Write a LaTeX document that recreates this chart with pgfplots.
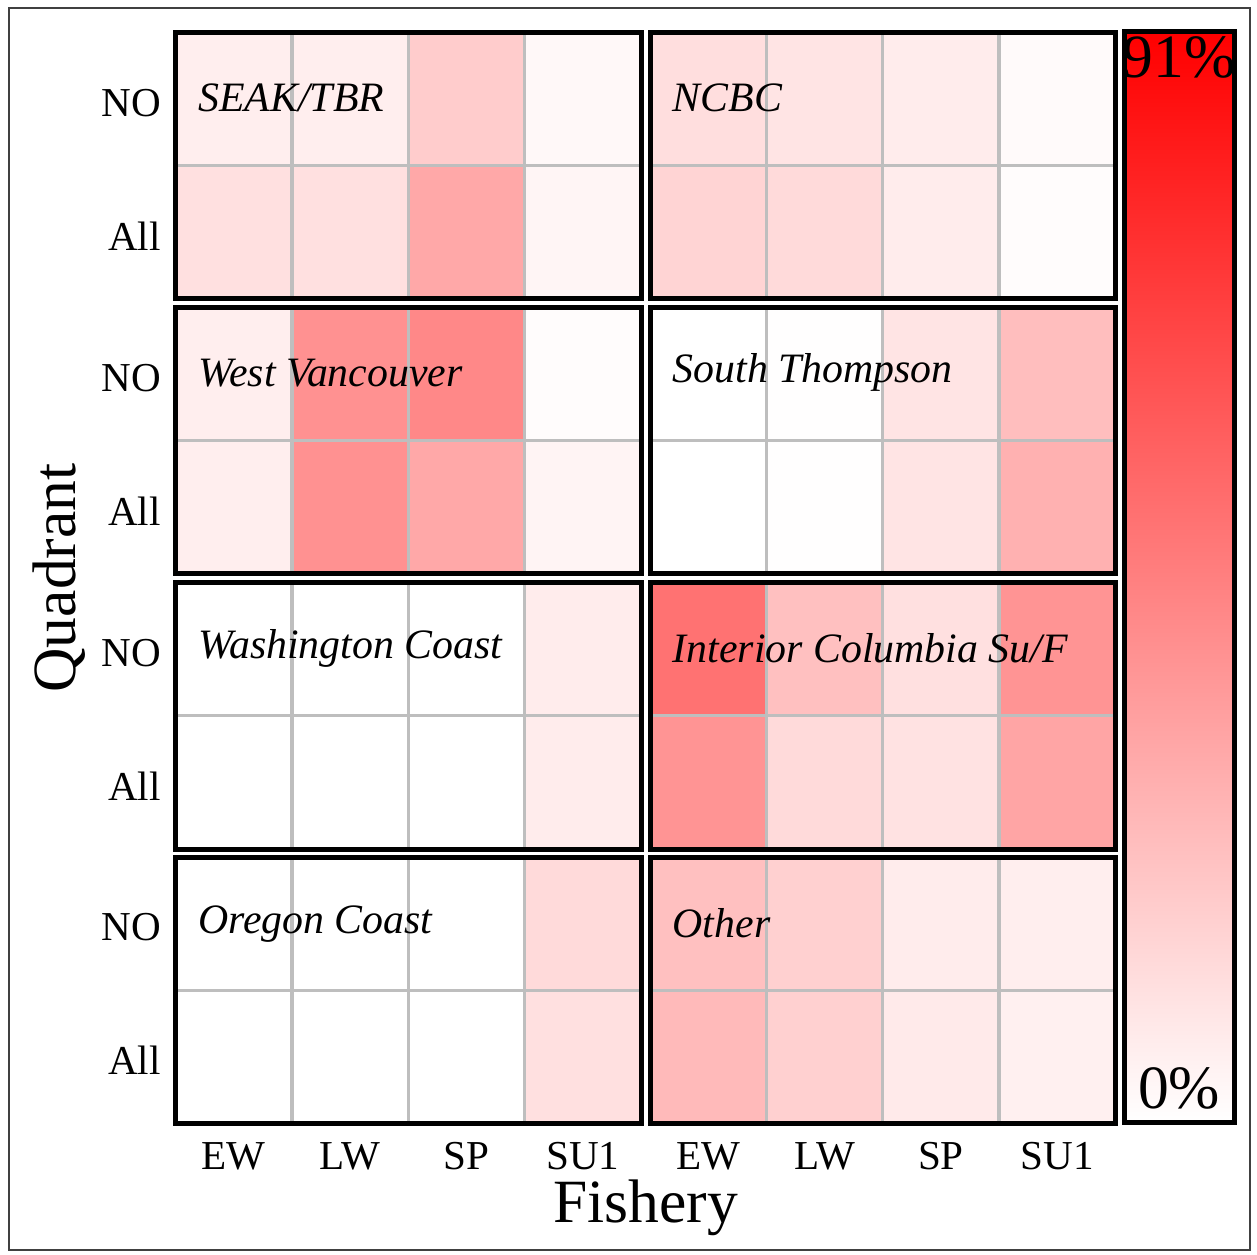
\documentclass[border=0pt]{standalone}
\usepackage{pgfplots}
\pgfplotsset{compat=1.18}
\usepackage{pgfplotstable}
\usepackage{fontspec}
\setmainfont{Liberation Serif}
\definecolor{gl}{RGB}{190,190,190}

% rows: y=0 -> All, y=1 -> NO ; x: 0 EW, 1 LW, 2 SP, 3 SU1 ; v in percent
\pgfplotstableread{
x y v
0 0 11
1 0 11
2 0 31
3 0 3.6
0 1 6
1 1 6
2 1 18
3 1 2.5
}\seak
\pgfplotstableread{
x y v
0 0 15.3
1 0 13.2
2 0 6.8
3 0 1
0 1 11.8
1 1 9.6
2 1 6.8
3 1 1.8
}\ncbc
\pgfplotstableread{
x y v
0 0 6
1 0 39
2 0 31
3 0 4
0 1 6
1 1 39
2 1 42
3 1 1
}\westvan
\pgfplotstableread{
x y v
0 0 0
1 0 0.5
2 0 9.6
3 0 27.5
0 1 0
1 1 0.5
2 1 9.6
3 1 23
}\souththom
\pgfplotstableread{
x y v
0 0 0
1 0 0
2 0 0
3 0 6.8
0 1 0
1 1 0
2 1 0
3 1 6.8
}\washc
\pgfplotstableread{
x y v
0 0 38
1 0 13.2
2 0 10.3
3 0 32
0 1 50
1 1 22.5
2 1 11
3 1 38
}\intcol
\pgfplotstableread{
x y v
0 0 0
1 0 0
2 0 0
3 0 11
0 1 0
1 1 0
2 1 0
3 1 13.2
}\oregc
\pgfplotstableread{
x y v
0 0 24.6
1 0 16.8
2 0 7.5
3 0 5.4
0 1 22.5
1 1 16.8
2 1 6.8
3 1 6
}\other

\pgfplotsset{
  wrmap/.style={colormap={wr}{rgb255=(255,255,255) rgb255=(255,0,0)},
    point meta min=0, point meta max=91},
  panel/.style={
    scale only axis, width=46.55mm, height=26.65mm, anchor=north west,
    xmin=-0.5, xmax=3.5, ymin=-0.5, ymax=1.5,
    axis on top, wrmap,
    xtick={0,1,2,3}, ytick={0,1}, xticklabels={}, yticklabels={},
    major tick length=0pt, minor tick length=0pt,
    minor xtick={0.5,1.5,2.5}, minor ytick={0.5},
    xminorgrids, yminorgrids,
    minor grid style={gl, line width=0.33mm},
    axis line style={line width=0.5mm, line join=miter},
    tick label style={font=\fontsize{11.7}{13}\selectfont},
    xticklabel style={inner sep=0pt, yshift=-1.8mm},
    yticklabel style={inner sep=0pt, xshift=-1.4mm, yshift=-0.35mm},
  },
  bottomrow/.style={xticklabels={EW,LW,SP,SU1}},
  leftcol/.style={yticklabels={All,NO}},
}
\tikzset{pn/.style={anchor=base west, inner sep=0pt, font=\fontsize{11.9}{14}\selectfont\itshape}}

\begin{document}
\begin{tikzpicture}
\path[use as bounding box] (0,0) rectangle (125.7mm,-125.4mm);
\draw[black!75, line width=0.15mm] (0.9mm,-0.8mm) rectangle (125.0mm,-125.0mm);

% row 1
\begin{axis}[panel, leftcol, at={(17.55mm,-3.25mm)}]
\addplot[matrix plot*, mesh/cols=4, point meta=explicit] table[meta=v] {\seak};
\end{axis}
\begin{axis}[panel, at={(65.0mm,-3.25mm)}]
\addplot[matrix plot*, mesh/cols=4, point meta=explicit] table[meta=v] {\ncbc};
\end{axis}
% row 2
\begin{axis}[panel, leftcol, at={(17.55mm,-30.75mm)}]
\addplot[matrix plot*, mesh/cols=4, point meta=explicit] table[meta=v] {\westvan};
\end{axis}
\begin{axis}[panel, at={(65.0mm,-30.75mm)}]
\addplot[matrix plot*, mesh/cols=4, point meta=explicit] table[meta=v] {\souththom};
\end{axis}
% row 3
\begin{axis}[panel, leftcol, at={(17.55mm,-58.25mm)}]
\addplot[matrix plot*, mesh/cols=4, point meta=explicit] table[meta=v] {\washc};
\end{axis}
\begin{axis}[panel, at={(65.0mm,-58.25mm)}]
\addplot[matrix plot*, mesh/cols=4, point meta=explicit] table[meta=v] {\intcol};
\end{axis}
% row 4
\begin{axis}[panel, leftcol, bottomrow, at={(17.55mm,-85.7mm)}]
\addplot[matrix plot*, mesh/cols=4, point meta=explicit] table[meta=v] {\oregc};
\end{axis}
\begin{axis}[panel, bottomrow, at={(65.0mm,-85.7mm)}]
\addplot[matrix plot*, mesh/cols=4, point meta=explicit] table[meta=v] {\other};
\end{axis}

% colour scale
\begin{axis}[scale only axis, width=10.95mm, height=109.0mm, anchor=north west,
  at={(112.45mm,-3.2mm)}, xmin=0, xmax=1, ymin=0, ymax=91, wrmap,
  axis on top, xtick=\empty, ytick=\empty,
  axis line style={line width=0.5mm, line join=miter}]
\addplot[surf, shader=interp, point meta=y] coordinates {
(0,0) (1,0)

(0,91) (1,91)
};
\end{axis}

% panel names (on top of the grid lines)
\node[pn] at (19.75mm,-11.15mm) {SEAK/TBR};
\node[pn] at (67.2mm,-11.15mm) {NCBC};
\node[pn] at (19.75mm,-38.65mm) {West Vancouver};
\node[pn] at (67.2mm,-38.3mm) {South Thompson};
\node[pn] at (19.75mm,-65.85mm) {Washington Coast};
\node[pn] at (67.2mm,-66.2mm) {Interior Columbia Su/F};
\node[pn] at (19.75mm,-93.3mm) {Oregon Coast};
\node[pn] at (67.2mm,-93.7mm) {Other};

\node[anchor=base, inner sep=0pt, font=\fontsize{17.5}{20}\selectfont] at (117.9mm,-7.8mm) {91\%};
\node[anchor=base, inner sep=0pt, font=\fontsize{17.5}{20}\selectfont] at (117.9mm,-110.8mm) {0\%};
\node[anchor=base, inner sep=0pt, font=\fontsize{17.5}{20}\selectfont] at (64.55mm,-122.25mm) {Fishery};
\node[anchor=base, inner sep=0pt, rotate=90, font=\fontsize{17.5}{20}\selectfont] at (7.5mm,-57.8mm) {Quadrant};
\end{tikzpicture}
\end{document}
